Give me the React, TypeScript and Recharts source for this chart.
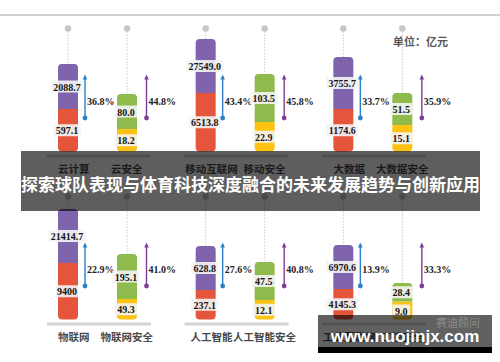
import React from 'react';
import { BarChart, Bar, XAxis, YAxis, LabelList } from 'recharts';

// every column is scaled to this height (dot at the top)
const MAX = 123;

// top row
const topMarketNames = ['云计算', '移动互联网', '大数据'];
const topSecurityNames = ['云安全', '移动安全', '大数据安全'];
const topRedH = [42.5, 58.5, 42.5];
const topPurpleH = [45, 54, 52];
const topYellowH = [22.5, 29.5, 26.5];
const topGreenH = [35, 48, 32];
const topPurpleText = ['2088.7', '27549.0', '3755.7'];
const topRedText = ['597.1', '6513.8', '1174.6'];
const topGreenText = ['80.0', '103.5', '51.5'];
const topYellowText = ['18.2', '22.9', '15.1'];
const topMarketPct = ['36.8%', '43.4%', '33.7%'];
const topSecurityPct = ['44.8%', '45.8%', '35.9%'];

// bottom row (last pair of names is hidden under the watermark)
const bottomMarketNames = ['物联网', '人工智能', '工业互联网'];
const bottomSecurityNames = ['物联网安全', '人工智能安全', '工控安全'];
const bottomRedH = [56.5, 29.5, 30.5];
const bottomPurpleH = [54, 44, 44];
const bottomYellowH = [20.5, 19.5, 18];
const bottomGreenH = [45, 38, 18.5];
const bottomPurpleText = ['21414.7', '628.8', '6970.6'];
const bottomRedText = ['9400', '237.1', '4145.3'];
const bottomGreenText = ['195.1', '47.5', '28.4'];
const bottomYellowText = ['49.3', '12.1', '9.0'];
const bottomMarketPct = ['22.9%', '27.6%', '13.9%'];
const bottomSecurityPct = ['41.0%', '40.8%', '33.3%'];

const PURPLE = '#7f63ad';
const RED = '#e5553b';
const GREEN = '#8fba4c';
const YELLOW = '#fdc212';
const BLUE_ARROW = '#2a80c8';
const PURPLE_ARROW = '#7d3c98';

const buildRows = (
  names: string[], red: number[], purple: number[], yellow: number[], green: number[],
  purpleText: string[], redText: string[], greenText: string[], yellowText: string[],
  mPct: string[], sPct: string[]
) =>
  names.map((name, i) => ({
    name,
    red: red[i],
    purple: purple[i],
    mStem: MAX - red[i] - purple[i],
    yellow: yellow[i],
    green: green[i],
    sStem: MAX - yellow[i] - green[i],
    purpleText: purpleText[i],
    redText: redText[i],
    greenText: greenText[i],
    yellowText: yellowText[i],
    mPct: mPct[i],
    sPct: sPct[i],
  }));

const topRows = buildRows(topMarketNames, topRedH, topPurpleH, topYellowH, topGreenH,
  topPurpleText, topRedText, topGreenText, topYellowText, topMarketPct, topSecurityPct);
const bottomRows = buildRows(bottomMarketNames, bottomRedH, bottomPurpleH, bottomYellowH, bottomGreenH,
  bottomPurpleText, bottomRedText, bottomGreenText, bottomYellowText, bottomMarketPct, bottomSecurityPct);

const SERIF = '"Liberation Serif", "Times New Roman", serif';
const CJK = '"Noto Sans CJK SC", sans-serif';

const boxOf = (props: any) => {
  const vb = props.viewBox && props.viewBox.width !== undefined ? props.viewBox : props;
  return { x: Number(vb.x), y: Number(vb.y), width: Number(vb.width), height: Number(vb.height) };
};

const ValueLabel = (props: any) => {
  const { x, y, width, height } = boxOf(props);
  const text = String(props.value);
  const w = text.length * 4.9 + 3;
  const cx = x + width / 2 - 1;
  const cy = y + height / 2;
  return (
    <g>
      <rect x={cx - w / 2} y={cy - 6} width={w} height={12} fill="#f4f4f4" fillOpacity={0.9} />
      <text x={cx} y={cy + 0.5} textAnchor="middle" dominantBaseline="central"
        fontFamily={SERIF} fontWeight="bold" fontSize={10} fill="#151515">{text}</text>
    </g>
  );
};

const Stem = (props: any) => {
  const { x, y, width, height } = props;
  const cx = x + width / 2;
  return (
    <g>
      <line x1={cx} x2={cx} y1={y} y2={y + height} stroke="#cccccc" strokeWidth={1} strokeDasharray="1.5 1.5" />
      <circle cx={cx} cy={y} r={3.2} fill="#c6c6c6" />
    </g>
  );
};

const makeArrow = (color: string, dx: number) => (props: any) => {
  const { x, y, width } = boxOf(props);
  const ax = x + width + dx;
  const top = y + 47;
  const bot = y + 89.5;
  return (
    <g>
      <line x1={ax} x2={ax} y1={top + 3} y2={bot} stroke={color} strokeWidth={1.4} />
      <path d={`M${ax - 2.3},${top + 4} L${ax},${top - 1} L${ax + 2.3},${top + 4} Z`} fill={color} />
      <circle cx={ax} cy={bot} r={2.4} fill={color} />
      <text x={ax + 2} y={y + 73} dominantBaseline="central" fontFamily={SERIF}
        fontWeight="bold" fontSize={10} fill="#222">{props.value}</text>
    </g>
  );
};

const makeTick = (secNames: string[]) => (props: any) => {
  const { x, y, payload, index } = props;
  return (
    <g>
      <line x1={x - 51} x2={x + 53} y1={y + 4.5} y2={y + 4.5} stroke="#d4d4d4" strokeWidth={3} />
      <text x={x - 24} y={y + 17} textAnchor="middle" dominantBaseline="central"
        fontFamily={CJK} fontWeight="bold" fontSize={10.5} fill="#4a4a4a">{payload.value}</text>
      <text x={x + 29} y={y + 17} textAnchor="middle" dominantBaseline="central"
        fontFamily={CJK} fontWeight="bold" fontSize={10.5} fill="#4a4a4a">{secNames[index]}</text>
    </g>
  );
};

const Row = ({ data, top, secNames }: { data: any[]; top: number; secNames: string[] }) => (
  <div style={{ position: 'absolute', left: 0, top }}>
    <BarChart width={500} height={180} data={data} barSize={20} barGap={39}
      margin={{ top: 28.5, right: 58, bottom: 0, left: 29 }}>
      <XAxis dataKey="name" axisLine={false} tickLine={false} tickSize={0} tickMargin={0}
        height={28.5} interval={0} tick={makeTick(secNames)} />
      <YAxis hide domain={[0, MAX]} />
      <Bar dataKey="red" stackId="m" fill={RED} radius={[0, 0, 4, 4]} isAnimationActive={false}>
        <LabelList dataKey="redText" content={ValueLabel} />
      </Bar>
      <Bar dataKey="purple" stackId="m" fill={PURPLE} radius={[4, 4, 0, 0]} isAnimationActive={false}>
        <LabelList dataKey="purpleText" content={ValueLabel} />
      </Bar>
      <Bar dataKey="mStem" stackId="m" fill="none" shape={Stem} isAnimationActive={false}>
        <LabelList dataKey="mPct" content={makeArrow(BLUE_ARROW, 7)} />
      </Bar>
      <Bar dataKey="yellow" stackId="s" fill={YELLOW} radius={[0, 0, 4, 4]} isAnimationActive={false}>
        <LabelList dataKey="yellowText" content={ValueLabel} />
      </Bar>
      <Bar dataKey="green" stackId="s" fill={GREEN} radius={[4, 4, 0, 0]} isAnimationActive={false}>
        <LabelList dataKey="greenText" content={ValueLabel} />
      </Bar>
      <Bar dataKey="sStem" stackId="s" fill="none" shape={Stem} isAnimationActive={false}>
        <LabelList dataKey="sPct" content={makeArrow(PURPLE_ARROW, 9.5)} />
      </Bar>
    </BarChart>
  </div>
);

export default function App() {
  return (
    <div style={{ position: 'relative', width: 500, height: 362, background: '#fff', overflow: 'hidden' }}>
      <style>{'body{margin:0}'}</style>
      <div style={{ position: 'absolute', left: 0, top: 14, width: 500, height: 2, background: '#d2d2d2' }} />
      <div style={{
        position: 'absolute', left: 393, top: 33, fontFamily: CJK, fontWeight: 'bold',
        fontSize: 11, color: '#555', whiteSpace: 'nowrap',
      }}>单位：亿元</div>

      <Row data={topRows} top={0} secNames={topSecurityNames} />
      <Row data={bottomRows} top={168} secNames={bottomSecurityNames} />

      {/* banner overlay */}
      <div style={{
        position: 'absolute', left: 21, top: 151, width: 459, height: 60,
        background: 'rgba(0,0,0,0.63)', color: '#fff', fontFamily: CJK, fontWeight: 'bold',
        fontSize: 17, lineHeight: '20px', textAlign: 'center', whiteSpace: 'nowrap',
        boxSizing: 'border-box', paddingTop: 23,
      }}>探索球队表现与体育科技深度融合的未来发展趋势与创新应用</div>

      {/* watermark */}
      <div style={{
        position: 'absolute', left: 318, top: 315, width: 174, height: 38,
        background: 'rgba(0,0,0,0.62)', borderBottom: '6px solid #000', boxSizing: 'border-box',
      }}>
        <div style={{
          position: 'absolute', left: 118, top: 1, fontFamily: CJK, fontSize: 11, lineHeight: '12px',
          color: 'rgba(255,255,255,0.28)', whiteSpace: 'nowrap',
        }}>赛迪顾问</div>
        <div style={{
          position: 'absolute', left: 0, top: 13, width: 174, textAlign: 'center',
          fontFamily: '"Liberation Sans", Arial, sans-serif', fontWeight: 'bold', fontSize: 17,
          lineHeight: '17px', color: '#fff', whiteSpace: 'nowrap',
        }}>www.nuojinjx.com</div>
      </div>
    </div>
  );
}
